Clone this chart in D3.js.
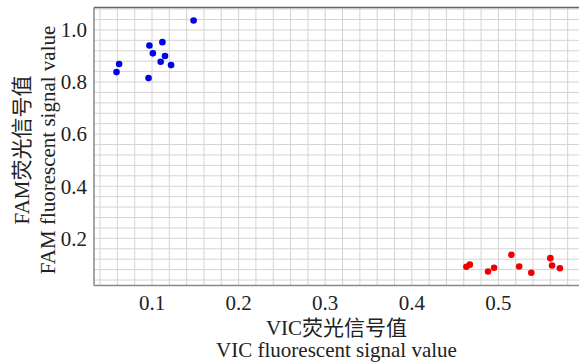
<!DOCTYPE html>
<html>
<head>
<meta charset="utf-8">
<script src="https://cdn.jsdelivr.net/npm/d3@7"></script>
<style>
  body { margin: 0; background: #fff; }
  svg { display: block; }
  text { font-family: "Liberation Serif", "Noto Sans CJK SC", serif; fill: #222; }
</style>
</head>
<body>
<svg width="579" height="362"></svg>
<script>
// FAM cluster (blue)
const famVic = [0.148, 0.097, 0.112, 0.101, 0.115, 0.110, 0.122, 0.062, 0.059, 0.096];
const famFam = [1.036, 0.940, 0.953, 0.910, 0.900, 0.878, 0.865, 0.869, 0.838, 0.815];
// VIC cluster (red)
const vicVic = [0.463, 0.467, 0.488, 0.495, 0.515, 0.524, 0.538, 0.560, 0.562, 0.571];
const vicFam = [0.091, 0.099, 0.073, 0.087, 0.137, 0.092, 0.068, 0.124, 0.096, 0.085];

const xTicks = [0.1, 0.2, 0.3, 0.4, 0.5];
const yTicks = [0.2, 0.4, 0.6, 0.8, 1.0];

const points = [];
famVic.forEach((v, i) => points.push({ x: v, y: famFam[i], c: "#0000ee" }));
vicVic.forEach((v, i) => points.push({ x: v, y: vicFam[i], c: "#ee0000" }));

const plotL = 94, plotR = 585, plotT = 7.5, plotB = 285.5;

const x = d3.scaleLinear().domain([0.033, 0.6]).range([plotL, plotR]);
const y = d3.scaleLinear().domain([0.019, 1.086]).range([plotB, plotT]);

const svg = d3.select("svg");

// grid
const grid = svg.append("g").attr("stroke", "#d4d4d4").attr("stroke-width", 1);
grid.selectAll(".v")
    .data(d3.range(2, 30).map(i => i * 0.02))
    .join("line")
    .attr("class", "v")
    .attr("x1", d => x(d)).attr("x2", d => x(d))
    .attr("y1", plotT).attr("y2", plotB);
grid.selectAll(".h")
    .data(d3.range(1, 28).map(i => i * 0.04))
    .join("line")
    .attr("class", "h")
    .attr("y1", d => y(d)).attr("y2", d => y(d))
    .attr("x1", plotL).attr("x2", plotR);

// frame
svg.append("line").attr("x1", plotL).attr("x2", plotR).attr("y1", plotT).attr("y2", plotT)
    .attr("stroke", "#666").attr("stroke-width", 1.5);
svg.append("line").attr("x1", plotL).attr("x2", plotR).attr("y1", plotB).attr("y2", plotB)
    .attr("stroke", "#888").attr("stroke-width", 1.5);
svg.append("line").attr("x1", plotL).attr("x2", plotL).attr("y1", plotT).attr("y2", plotB)
    .attr("stroke", "#888").attr("stroke-width", 1.5);

// tick labels
svg.append("g").selectAll("text")
    .data(xTicks)
    .join("text")
    .attr("x", d => x(d))
    .attr("y", 310)
    .attr("text-anchor", "middle")
    .style("font-size", "21px")
    .text(d => d3.format(".1f")(d));

svg.append("g").selectAll("text")
    .data(yTicks)
    .join("text")
    .attr("x", 87)
    .attr("y", d => y(d))
    .attr("dy", "0.35em")
    .attr("text-anchor", "end")
    .style("font-size", "21px")
    .text(d => d3.format(".1f")(d));

// points
svg.append("g").selectAll("circle")
    .data(points)
    .join("circle")
    .attr("cx", d => x(d.x))
    .attr("cy", d => y(d.y))
    .attr("r", 3.3)
    .attr("fill", d => d.c);

// axis titles
const cx = (plotL + 579) / 2;
svg.append("text").attr("x", cx).attr("y", 335).attr("text-anchor", "middle")
    .style("font-size", "21px").text("VIC荧光信号值");
svg.append("text").attr("x", cx).attr("y", 357).attr("text-anchor", "middle")
    .style("font-size", "21px").text("VIC fluorescent signal value");

const cy = 150;
svg.append("text").attr("transform", `translate(29,${cy}) rotate(-90)`).attr("text-anchor", "middle")
    .style("font-size", "21px").text("FAM荧光信号值");
svg.append("text").attr("transform", `translate(55,${cy}) rotate(-90)`).attr("text-anchor", "middle")
    .style("font-size", "21px").text("FAM fluorescent signal value");
</script>
</body>
</html>
